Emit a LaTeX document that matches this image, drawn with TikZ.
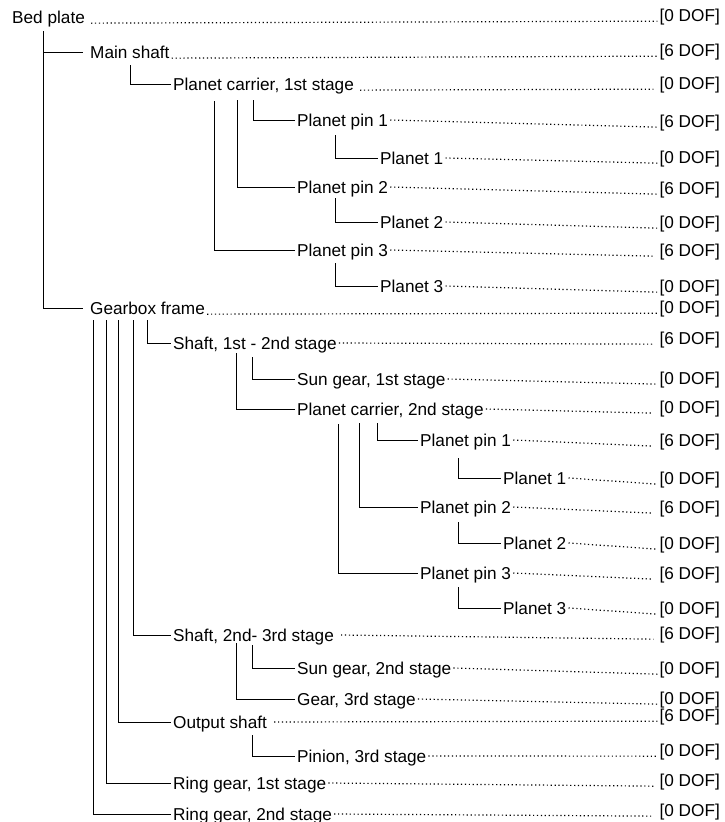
\documentclass[tikz,border=0pt]{standalone}
\usepackage{fontspec}
\setmainfont{Liberation Sans}
\tikzset{
  lbl/.style={anchor=west, inner sep=0pt, text height=12.3pt, text depth=0pt,
              font=\fontsize{17.2}{20}\selectfont},
  doflbl/.style={lbl, anchor=east},
  conn/.style={line width=0.9pt, black},
  lead/.style={line width=1.2pt, dash pattern=on 1.2pt off 2.7pt, black},
}
\newcommand\entry[9]{%
  \node[lbl] (#1) at (#2,#3) {#5};
  \node[doflbl] (#1d) at (720,#4) {[#6 DOF]};
  \draw[lead] ([xshift=#8]#1.#7) -- ([xshift=-#9]#1d.base west);
}
\begin{document}
\begin{tikzpicture}[x=1pt,y=-1pt]
\useasboundingbox (0,0) rectangle (724,822);

\entry{bp}{12}{17}{15}{Bed plate}{0}{base east}{6pt}{2pt}
\entry{ms}{90}{52}{50}{Main shaft}{6}{base east}{2pt}{2pt}
\entry{pc1}{173}{84}{83}{Planet carrier, 1st stage}{0}{base east}{6pt}{6pt}
\entry{pa1}{297}{120}{121}{Planet pin 1}{6}{east}{2pt}{2pt}
\entry{pl1}{380}{158}{157}{Planet 1}{0}{east}{2pt}{2pt}
\entry{pa2}{297}{187}{188}{Planet pin 2}{6}{east}{2pt}{2pt}
\entry{pl2}{380}{222}{222}{Planet 2}{0}{east}{2pt}{2pt}
\entry{pa3}{297}{250}{250}{Planet pin 3}{6}{east}{2pt}{6pt}
\entry{pl3}{380}{286}{286}{Planet 3}{0}{east}{2pt}{2pt}
\entry{gf}{90}{308}{307}{Gearbox frame}{0}{base east}{2pt}{2pt}
\entry{s12}{173}{343}{338}{Shaft, 1st - 2nd stage}{6}{east}{2pt}{6pt}
\entry{sg1}{297}{379}{378}{Sun gear, 1st stage}{0}{east}{2pt}{2pt}
\entry{pc2}{297}{409}{407}{Planet carrier, 2nd stage}{0}{east}{2pt}{6pt}
\entry{pb1}{420}{440}{440}{Planet pin 1}{6}{east}{2pt}{6pt}
\entry{pm1}{503}{478}{478}{Planet 1}{0}{east}{2pt}{2pt}
\entry{pb2}{420}{507}{507}{Planet pin 2}{6}{east}{2pt}{6pt}
\entry{pm2}{503}{543}{543}{Planet 2}{0}{east}{2pt}{2pt}
\entry{pb3}{420}{573}{573}{Planet pin 3}{6}{east}{2pt}{6pt}
\entry{pm3}{503}{608}{608}{Planet 3}{0}{east}{2pt}{2pt}
\entry{s23}{173}{635}{633}{Shaft, 2nd- 3rd stage}{6}{east}{7pt}{6pt}
\entry{sg2}{297}{668}{668}{Sun gear, 2nd stage}{0}{east}{2pt}{2pt}
\entry{g3}{297}{699}{698}{Gear, 3rd stage}{0}{east}{2pt}{2pt}
\entry{os}{173}{722}{715}{Output shaft}{6}{east}{7pt}{2pt}
\entry{pn3}{297}{756}{750}{Pinion, 3rd stage}{0}{east}{2pt}{2pt}
\entry{rg1}{173}{783}{780}{Ring gear, 1st stage}{0}{east}{2pt}{6pt}
\entry{rg2}{173}{814}{810}{Ring gear, 2nd stage}{0}{east}{2pt}{6pt}

% connector tops
\coordinate (v-bp) at (43,31);
\coordinate (v-ms) at (130,65);
\coordinate (v-pa1) at (253,100);
\coordinate (v-pa2) at (237,100);
\coordinate (v-pa3) at (214,101);
\coordinate (v-pl1) at (335,135);
\coordinate (v-pl2) at (335,198);
\coordinate (v-pl3) at (335,263);
\coordinate (v-s12) at (147,320);
\coordinate (v-s23) at (133,320);
\coordinate (v-os) at (118,320);
\coordinate (v-rg1) at (106,320);
\coordinate (v-rg2) at (93,320);
\coordinate (v-sg1) at (252,357);
\coordinate (v-pc2) at (236,353);
\coordinate (v-pb1) at (377,423);
\coordinate (v-pb2) at (359,423);
\coordinate (v-pb3) at (338,424);
\coordinate (v-pm1) at (458,458);
\coordinate (v-pm2) at (458,522);
\coordinate (v-pm3) at (458,587);
\coordinate (v-sg2) at (252,645);
\coordinate (v-g3) at (236,643);
\coordinate (v-pn3) at (252,735);

\draw[conn] (v-bp) |- ([xshift=-7pt]ms.west);
\draw[conn] (v-bp) |- ([xshift=-7pt]gf.west);
\draw[conn] (v-ms) |- ([xshift=-2pt]pc1.west);
\foreach \n in {pa1,pa2,pa3,pl1,pl2,pl3,s12,s23,os,rg1,rg2,sg1,pc2,pb1,pb2,pb3,pm1,pm2,pm3,sg2,g3,pn3}
  \draw[conn] (v-\n) |- ([xshift=-2pt]\n.west);
\end{tikzpicture}
\end{document}
